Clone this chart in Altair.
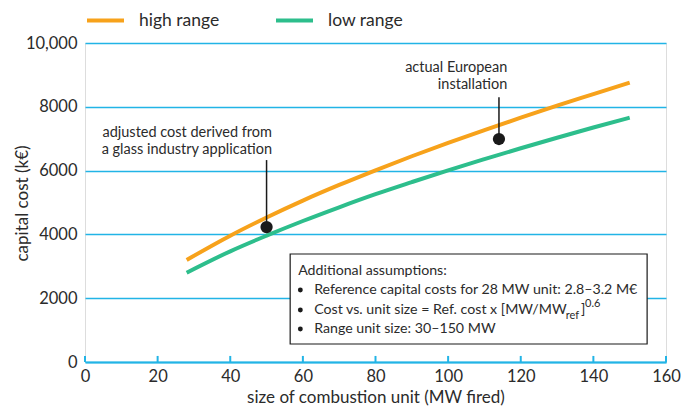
import altair as alt
import pandas as pd

# ---- data ----
mw = [28, 40, 50, 60, 70, 80, 90, 100, 110, 120, 130, 140, 150]
high_cost = [3200, 3960, 4530, 5060, 5550, 6010, 6450, 6870, 7270, 7660, 8040, 8400, 8760]
low_cost = [2800, 3470, 3960, 4420, 4850, 5260, 5640, 6010, 6360, 6700, 7030, 7350, 7660]
series_names = ["high range", "low range"]

point_mw = [50, 114]
point_cost = [4230, 6990]
leader_top = [6330, 8300]

x_ticks = [0, 20, 40, 60, 80, 100, 120, 140, 160]
y_ticks = [0, 2000, 4000, 6000, 8000, 10000]

ORANGE = "#F7A21B"
GREEN = "#2DBE8C"
BLUE = "#22B4E6"
BG = "#FEFAE8"
TXT = "#2b2b2b"
FONT = "Lato"

lines_df = pd.DataFrame(
    [{"mw": m, "cost": c, "series": series_names[0]} for m, c in zip(mw, high_cost)]
    + [{"mw": m, "cost": c, "series": series_names[1]} for m, c in zip(mw, low_cost)]
)
pts_df = pd.DataFrame({"mw": point_mw, "cost": point_cost, "top": leader_top})
ticks_df = pd.DataFrame({"mw": x_ticks, "y0": [0] * len(x_ticks), "y1": [190] * len(x_ticks)})

# annotation texts (anchor positions in data units)
ann_df = pd.DataFrame({
    "mw": [51.5, 51.5, 116.3, 116.3],
    "cost": [7180, 6650, 9215, 8685],
    "text": ["adjusted cost derived from", "a glass industry application",
             "actual European", "installation"],
})
box_df = pd.DataFrame({"x": [56.5], "x2": [154.8], "y": [3386], "y2": [564]})
box_text_df = pd.DataFrame({
    "mw": [58.7, 63.1, 63.1, 63.1],
    "cost": [2853, 2257, 1630, 1034],
    "text": ["Additional assumptions:",
             "Reference capital costs for 28 MW unit: 2.8–3.2 M€",
             "Cost vs. unit size = Ref. cost x [MW/MW",
             "Range unit size: 30–150 MW"],
})
bullet_df = pd.DataFrame({"mw": [59.3, 59.3, 59.3], "cost": [2257, 1630, 1034]})
sub_df = pd.DataFrame({"mw": [132.4], "cost": [1450], "text": ["ref"]})
brk_df = pd.DataFrame({"mw": [136.6], "cost": [1630], "text": ["]"]})
sup_df = pd.DataFrame({"mw": [137.7], "cost": [1810], "text": ["0.6"]})

xs = alt.Scale(domain=[0, 160], nice=False)
ys = alt.Scale(domain=[0, 10000], nice=False)

base_x = alt.X("mw:Q", scale=xs,
               axis=alt.Axis(values=x_ticks, title="size of combustion unit (MW fired)",
                             tickSize=0, domainColor=BLUE, domainWidth=2,
                             labelFlush=False,
                             labelFontSize=16.5, labelColor=TXT, labelPadding=6,
                             labelFont=FONT, titleFont=FONT, titleFontSize=17,
                             titleFontWeight="normal", titleColor=TXT, titlePadding=5,
                             grid=False))
base_y = alt.Y("cost:Q", scale=ys,
               axis=alt.Axis(values=y_ticks, title="capital cost (k€)",
                             labelExpr="datum.value >= 10000 ? format(datum.value, ',') : format(datum.value, 'd')",
                             tickSize=0, domain=False, grid=True, gridColor=BLUE,
                             gridWidth=1.5, labelFontSize=16.5, labelColor=TXT,
                             labelPadding=8, labelFont=FONT, titleFont=FONT,
                             titleFontSize=17, titleFontWeight="normal",
                             titleColor=TXT, titleX=-63, titleY=160,
                             titleAlign="center", titleBaseline="middle",
                             titleAngle=270))

lines = alt.Chart(lines_df).mark_line(strokeWidth=4, interpolate="monotone").encode(
    x=base_x, y=base_y,
    color=alt.Color("series:N",
                    scale=alt.Scale(domain=series_names, range=[ORANGE, GREEN]),
                    legend=alt.Legend(title=None, orient="none", legendX=0, legendY=-43,
                                      direction="horizontal", symbolType="stroke",
                                      symbolStrokeWidth=4, symbolSize=1369,
                                      labelFontSize=17.5, labelFont=FONT, labelColor=TXT,
                                      labelOffset=13, columnPadding=48)),
)

xticks = alt.Chart(ticks_df).mark_rule(color=BLUE, strokeWidth=2).encode(
    x=alt.X("mw:Q", scale=xs), y=alt.Y("y0:Q", scale=ys), y2="y1:Q")

leaders = alt.Chart(pts_df).mark_rule(color="#1a1a1a", strokeWidth=1.5).encode(
    x=alt.X("mw:Q", scale=xs), y=alt.Y("cost:Q", scale=ys), y2="top:Q")
dots = alt.Chart(pts_df).mark_circle(color="#1a1a1a", size=150, opacity=1).encode(
    x=alt.X("mw:Q", scale=xs), y=alt.Y("cost:Q", scale=ys))

ann = alt.Chart(ann_df).mark_text(align="right", baseline="middle", fontSize=14.5,
                                  font=FONT, color=TXT).encode(
    x=alt.X("mw:Q", scale=xs), y=alt.Y("cost:Q", scale=ys), text="text:N")

box = alt.Chart(box_df).mark_rect(fill="white", stroke="#1a1a1a", strokeWidth=1.2).encode(
    x=alt.X("x:Q", scale=xs), x2="x2:Q", y=alt.Y("y:Q", scale=ys), y2="y2:Q")
box_text = alt.Chart(box_text_df).mark_text(align="left", baseline="middle", fontSize=14.2,
                                            font=FONT, color=TXT).encode(
    x=alt.X("mw:Q", scale=xs), y=alt.Y("cost:Q", scale=ys), text="text:N")
bullets = alt.Chart(bullet_df).mark_circle(color="#1a1a1a", size=24, opacity=1).encode(
    x=alt.X("mw:Q", scale=xs), y=alt.Y("cost:Q", scale=ys))
sub = alt.Chart(sub_df).mark_text(align="left", baseline="middle", fontSize=11,
                                  font=FONT, color=TXT).encode(
    x=alt.X("mw:Q", scale=xs), y=alt.Y("cost:Q", scale=ys), text="text:N")
brk = alt.Chart(brk_df).mark_text(align="left", baseline="middle", fontSize=14.2,
                                  font=FONT, color=TXT).encode(
    x=alt.X("mw:Q", scale=xs), y=alt.Y("cost:Q", scale=ys), text="text:N")
sup = alt.Chart(sup_df).mark_text(align="left", baseline="middle", fontSize=11,
                                  font=FONT, color=TXT).encode(
    x=alt.X("mw:Q", scale=xs), y=alt.Y("cost:Q", scale=ys), text="text:N")

chart = alt.layer(
    lines, xticks, leaders, dots, ann, box, box_text, bullets, sub, brk, sup
).properties(
    width=581, height=319,
    autosize=alt.AutoSizeParams(type="none"),
    padding={"left": 77, "top": 35, "right": 19, "bottom": 45},
).configure_view(fill=BG, stroke=None).configure(background="white")

chart.save("out.html", embed_options={"renderer": "svg", "actions": False})
